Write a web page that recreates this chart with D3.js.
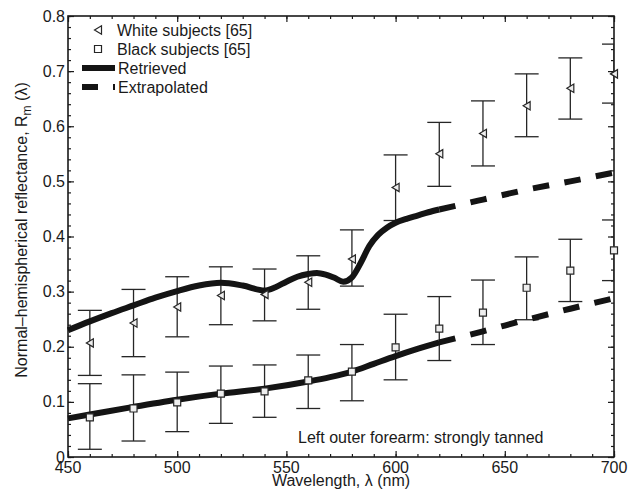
<!DOCTYPE html>
<html>
<head>
<meta charset="utf-8">
<script src="https://d3js.org/d3.v7.min.js"></script>
<style>
  body { margin: 0; background: #fff; }
  text { font-family: "Liberation Sans", Arial, Helvetica, sans-serif; fill: #1a1a1a; }
</style>
</head>
<body>
<div id="chart"></div>
<script>
// measured data (Ref. [65]) - wavelength in nm
var wavelengths = [460, 480, 500, 520, 540, 560, 580, 600, 620, 640, 660, 680, 700];

var whiteMean  = [0.207, 0.243, 0.272, 0.293, 0.295, 0.317, 0.359, 0.489, 0.550, 0.587, 0.637, 0.669, 0.695];
var whiteUpper = [0.266, 0.304, 0.327, 0.345, 0.341, 0.365, 0.412, 0.548, 0.607, 0.646, 0.695, 0.724, 0.749];
var whiteLower = [0.148, 0.182, 0.218, 0.240, 0.247, 0.268, 0.310, 0.429, 0.491, 0.528, 0.581, 0.613, 0.642];

var blackMean  = [0.072, 0.088, 0.099, 0.115, 0.119, 0.139, 0.155, 0.199, 0.233, 0.262, 0.307, 0.338, 0.375];
var blackUpper = [0.133, 0.149, 0.154, 0.165, 0.167, 0.185, 0.204, 0.259, 0.291, 0.321, 0.363, 0.395, 0.430];
var blackLower = [0.014, 0.029, 0.046, 0.061, 0.072, 0.088, 0.102, 0.140, 0.175, 0.204, 0.249, 0.282, 0.320];

// retrieved spectra
var whiteRetrievedWl = [450, 460, 470, 480, 490, 500, 510, 520, 530, 540, 545, 550, 555, 560, 564, 568, 572, 576, 580, 584, 588, 592, 596, 600, 605, 610, 615, 620];
var whiteRetrieved   = [0.230, 0.246, 0.261, 0.275, 0.289, 0.301, 0.311, 0.316, 0.311, 0.302, 0.308, 0.318, 0.327, 0.332, 0.334, 0.331, 0.325, 0.318, 0.326, 0.352, 0.383, 0.403, 0.416, 0.425, 0.432, 0.438, 0.444, 0.449];
var blackRetrievedWl = [450, 460, 480, 500, 520, 540, 560, 570, 580, 590, 600, 610, 620];
var blackRetrieved   = [0.070, 0.077, 0.091, 0.104, 0.115, 0.124, 0.137, 0.145, 0.155, 0.169, 0.183, 0.196, 0.208];

// extrapolated spectra
var extrapWl           = [620, 640, 660, 680, 700];
var whiteExtrapolated  = [0.449, 0.467, 0.485, 0.500, 0.516];
var blackExtrapolated  = [0.208, 0.228, 0.249, 0.269, 0.288];

var xTicks = [450, 500, 550, 600, 650, 700];
var yTicks = [0, 0.1, 0.2, 0.3, 0.4, 0.5, 0.6, 0.7, 0.8];

var legendLabels = ["White subjects [65]", "Black subjects [65]", "Retrieved", "Extrapolated"];
var noteText = "Left outer forearm: strongly tanned";

var W = 636, H = 492;
var mLeft = 68, mRight = 614, mTop = 16, mBottom = 457;
var FS = "16px";

var svg = d3.select("#chart").append("svg")
  .attr("width", W).attr("height", H);

var x = d3.scaleLinear().domain([450, 700]).range([mLeft, mRight]);
var y = d3.scaleLinear().domain([0, 0.8]).range([mBottom, mTop]);

var zip = function(xs, ys) {
  return xs.map(function(d, i) { return [d, ys[i]]; });
};

// clip for caps at the right border
svg.append("clipPath").attr("id", "plotclip")
  .append("rect").attr("x", mLeft).attr("y", mTop).attr("width", mRight - mLeft).attr("height", mBottom - mTop);

// axes: ticks inward on all four sides
var minorX = d3.range(450, 701, 10);
var minorY = d3.range(0, 0.801, 0.02);

function addTicks(g, axisFn, scale, minor, major) {
  g.call(axisFn(scale).tickValues(minor).tickSize(3).tickFormat(""));
  g.append("g").call(axisFn(scale).tickValues(major).tickSize(6).tickFormat(""));
}

addTicks(svg.append("g").attr("transform", "translate(0," + mBottom + ")"), d3.axisTop, x, minorX, xTicks);
addTicks(svg.append("g").attr("transform", "translate(0," + mTop + ")"), d3.axisBottom, x, minorX, xTicks);
addTicks(svg.append("g").attr("transform", "translate(" + mLeft + ",0)"), d3.axisRight, y, minorY, yTicks);
addTicks(svg.append("g").attr("transform", "translate(" + mRight + ",0)"), d3.axisLeft, y, minorY, yTicks);

svg.selectAll(".domain").remove();
svg.selectAll(".tick line").attr("stroke", "#1a1a1a").attr("stroke-width", 1.2);

svg.append("rect")
  .attr("x", mLeft).attr("y", mTop).attr("width", mRight - mLeft).attr("height", mBottom - mTop)
  .attr("fill", "none").attr("stroke", "#1a1a1a").attr("stroke-width", 1.6);

// tick labels
svg.selectAll(".xlab").data(xTicks).enter().append("text")
  .attr("x", function(d) { return x(d); })
  .attr("y", mBottom + 16)
  .attr("text-anchor", "middle")
  .style("font-size", FS)
  .text(function(d) { return d; });

svg.selectAll(".ylab").data(yTicks).enter().append("text")
  .attr("x", mLeft - 3)
  .attr("y", function(d) { return y(d) + 5.5; })
  .attr("text-anchor", "end")
  .style("font-size", FS)
  .text(function(d) { return d === 0 ? "0" : d3.format(".1f")(d); });

// axis titles
svg.append("text")
  .attr("x", 341).attr("y", 486)
  .attr("text-anchor", "middle")
  .style("font-size", FS)
  .text("Wavelength, \u03bb (nm)");

var yt = svg.append("text")
  .attr("transform", "translate(27,230) rotate(-90)")
  .attr("text-anchor", "middle")
  .style("font-size", FS);
yt.append("tspan").text("Normal\u2013hemispherical reflectance, R");
yt.append("tspan").attr("dy", 4).style("font-size", "12px").text("m");
yt.append("tspan").attr("dy", -4).text(" (\u03bb)");

// error bars
var capW = 12;
function errorBars(means, upper, lower) {
  var g = svg.append("g").attr("clip-path", "url(#plotclip)")
    .attr("stroke", "#262626").attr("stroke-width", 1.3);
  var rows = wavelengths.map(function(w, i) { return { w: w, hi: upper[i], lo: lower[i] }; });
  g.selectAll(null).data(rows).enter().append("line")
    .attr("x1", function(d) { return x(d.w); }).attr("x2", function(d) { return x(d.w); })
    .attr("y1", function(d) { return y(d.hi); }).attr("y2", function(d) { return y(d.lo); });
  g.selectAll(null).data(rows).enter().append("line")
    .attr("x1", function(d) { return x(d.w) - capW; }).attr("x2", function(d) { return x(d.w) + capW; })
    .attr("y1", function(d) { return y(d.hi); }).attr("y2", function(d) { return y(d.hi); });
  g.selectAll(null).data(rows).enter().append("line")
    .attr("x1", function(d) { return x(d.w) - capW; }).attr("x2", function(d) { return x(d.w) + capW; })
    .attr("y1", function(d) { return y(d.lo); }).attr("y2", function(d) { return y(d.lo); });
}
errorBars(whiteMean, whiteUpper, whiteLower);
errorBars(blackMean, blackUpper, blackLower);

// curves
var line = d3.line()
  .x(function(d) { return x(d[0]); })
  .y(function(d) { return y(d[1]); })
  .curve(d3.curveMonotoneX);

[zip(whiteRetrievedWl, whiteRetrieved), zip(blackRetrievedWl, blackRetrieved)].forEach(function(pts) {
  svg.append("path").attr("d", line(pts))
    .attr("fill", "none").attr("stroke", "#141414").attr("stroke-width", 6)
    .attr("stroke-linejoin", "round");
});
[zip(extrapWl, whiteExtrapolated), zip(extrapWl, blackExtrapolated)].forEach(function(pts) {
  svg.append("path").attr("d", line(pts))
    .attr("fill", "none").attr("stroke", "#141414").attr("stroke-width", 6)
    .attr("stroke-dasharray", "16.5,15.5");
});

// markers
var tri = "M-3.5,0L3.5,-4.2L3.5,4.2Z";
var sq = "M-3.5,-3.5H3.5V3.5H-3.5Z";
function markers(shape, means) {
  svg.append("g").selectAll("path").data(zip(wavelengths, means)).enter().append("path")
    .attr("d", shape)
    .attr("transform", function(d) { return "translate(" + x(d[0]) + "," + y(d[1]) + ")"; })
    .attr("fill", "#eeeeee").attr("stroke", "#262626").attr("stroke-width", 1.2);
}
markers(tri, whiteMean);
markers(sq, blackMean);

// legend
var lg = svg.append("g");
lg.append("path").attr("d", tri).attr("transform", "translate(98,30)")
  .attr("fill", "#fff").attr("stroke", "#262626").attr("stroke-width", 1.2);
lg.append("path").attr("d", sq).attr("transform", "translate(98,49)")
  .attr("fill", "#fff").attr("stroke", "#262626").attr("stroke-width", 1.2);
lg.append("line").attr("x1", 82).attr("x2", 115).attr("y1", 68).attr("y2", 68)
  .attr("stroke", "#141414").attr("stroke-width", 6);
lg.append("line").attr("x1", 82).attr("x2", 115).attr("y1", 87).attr("y2", 87)
  .attr("stroke", "#141414").attr("stroke-width", 6).attr("stroke-dasharray", "16,15");
var legendY = [36, 55, 74, 92.5];
lg.selectAll("text").data(legendLabels).enter().append("text")
  .attr("x", function(d, i) { return i < 2 ? 117 : 118; })
  .attr("y", function(d, i) { return legendY[i]; })
  .style("font-size", FS)
  .text(function(d) { return d; });

svg.append("text")
  .attr("x", 298).attr("y", 443)
  .style("font-size", FS)
  .text(noteText);
</script>
</body>
</html>
